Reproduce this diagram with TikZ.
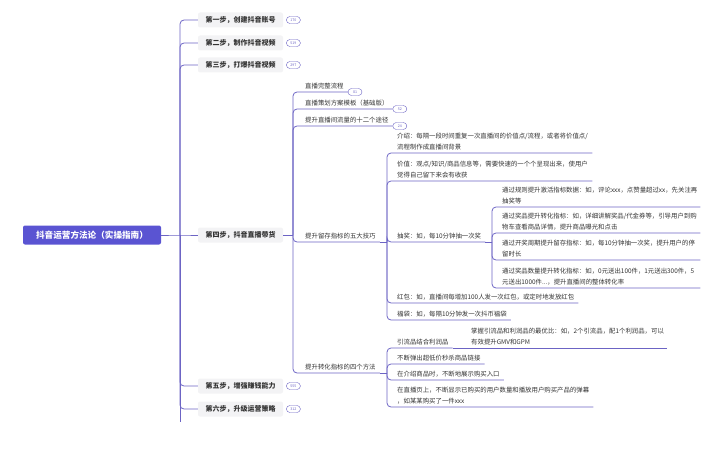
\documentclass[tikz,border=0pt]{standalone}
\usepackage{fontspec}
\setmainfont{Noto Sans CJK SC}
\usetikzlibrary{positioning}
\definecolor{rootBlue}{RGB}{90,84,210}
\definecolor{linkPurple}{RGB}{108,100,196}
\definecolor{stepGray}{RGB}{243,243,245}
\definecolor{textGray}{RGB}{51,51,51}

\begin{document}
\begin{tikzpicture}[x=1pt,y=-1pt,
    link/.style={draw=linkPurple,line width=0.8pt,rounded corners=4pt},
    rootbox/.style={fill=rootBlue,text=white,rounded corners=2pt,minimum width=138pt,minimum height=19pt,font=\bfseries\fontsize{8.6}{10}\selectfont},
    stepbox/.style={fill=stepGray,text=textGray,rounded corners=2pt,minimum height=15pt,inner xsep=7.5pt,font=\bfseries\fontsize{7}{8}\selectfont},
    badge/.style={draw=linkPurple,text=linkPurple,rounded corners=3.5pt,minimum width=14pt,minimum height=7pt,inner sep=0pt,font=\fontsize{3.6}{4}\selectfont},
    leaf/.style={anchor=south west,text=textGray,inner xsep=4pt,inner ysep=2.5pt,align=left,font=\fontsize{6.4}{11.5}\selectfont}]
        \useasboundingbox (0,0) rectangle (720,452);
        % root and steps
        \node[rootbox] (root) at (92,235) {抖音运营方法论（实操指南）};
        \node[stepbox] (st1) at (240.5,20) {第一步，创建抖音账号};
        \node[stepbox] (st2) at (240.5,43) {第二步，制作抖音视频};
        \node[stepbox] (st3) at (240.5,65) {第三步，打爆抖音视频};
        \node[stepbox] (st4) at (240.5,235) {第四步，抖音直播带货};
        \node[stepbox] (st5) at (240.5,386) {第五步，增强赚钱能力};
        \node[stepbox] (st6) at (240.5,409) {第六步，升级运营策略};
        \node[badge, right=3pt of st1] (b1) {170};
        \node[badge, right=3pt of st2] (b2) {519};
        \node[badge, right=3pt of st3] (b3) {297};
        \node[badge, right=3pt of st5] (b5) {555};
        \node[badge, right=3pt of st6] (b6) {312};
        \coordinate (s1) at (180,235);
        \coordinate (tail) at (180,422);
        \draw[link] (root.east) -- (s1) -- (st4.west);
        \foreach \n in {st1,st2,st3,st5,st6}
          \draw[link] (s1) |- (\n.west);
        \draw[link] (s1) -- (tail);
        % step four
        \node[leaf] (n21) at (301,92) {直播完整流程};
        \node[leaf] (n22) at (301,109) {直播策划方案模板（基础版）};
        \node[leaf] (n23) at (301,126) {提升直播间流量的十二个途径};
        \node[leaf] (n24) at (301,242) {提升留存指标的五大技巧};
        \node[leaf] (n25) at (301,373) {提升转化指标的四个方法};
        \node[badge, right=0pt of n21.south east] (b21) {81};
        \node[badge, right=0pt of n22.south east] (b22) {52};
        \node[badge, right=0pt of n23.south east] (b23) {24};
        \coordinate (s2) at (293,235);
        \draw[link] (st4.east) -- (s2);
        \foreach \n in {n21,n22,n23,n24,n25}
          \draw[link] (s2) |- (\n.south east);
        % five skills
        \coordinate (s3) at (387,242);
        \draw[link] (n24.south east) -- (s3);
        \node[leaf,text width=191pt] (n31) at (393,153) {介绍：每隔一段时间重复一次直播间的价值点/流程，或者将价值点/\\流程制作成直播间背景};
        \node[leaf,text width=191pt] (n32) at (393,181) {价值：观点/知识/商品信息等，需要快速的一个个呈现出来，使用户\\觉得自己留下来会有收获};
        \node[leaf] (n33) at (393,242) {抽奖：如，每10分钟抽一次奖};
        \node[leaf] (n34) at (393,303) {红包：如，直播间每增加100人发一次红包，或定时地发放红包};
        \node[leaf] (n35) at (393,320) {福袋：如，每隔10分钟发一次抖币福袋};
        \foreach \n in {n31,n32,n33,n34,n35}
          \draw[link] (s3) |- (\n.south east);
        % lottery
        \coordinate (s5) at (492,242);
        \draw[link] (n33.south east) -- (s5);
        \node[leaf,text width=194pt] (n41) at (498,207) {通过规则提升激活指标数据：如，评论xxx，点赞量超过xx，先关注再\\抽奖等};
        \node[leaf,text width=194pt] (n42) at (498,233) {通过奖品提升转化指标：如，详细讲解奖品/代金券等，引导用户到购\\物车查看商品详情，提升商品曝光和点击};
        \node[leaf,text width=194pt] (n43) at (498,260) {通过开奖周期提升留存指标：如，每10分钟抽一次奖，提升用户的停\\留时长};
        \node[leaf,text width=194pt] (n44) at (498,288) {通过奖品数量提升转化指标：如，0元送出100件，1元送出300件，5\\元送出1000件...，提升直播间的整体转化率};
        \foreach \n in {n41,n42,n43,n44}
          \draw[link] (s5) |- (\n.south east);
        % four methods
        \coordinate (s4) at (387,373);
        \draw[link] (n25.south east) -- (s4);
        \node[leaf] (m1) at (393,348) {引流品结合利润品};
        \node[leaf,text width=192pt] (m11) at (467,348) {掌握引流品和利润品的最优比：如，2个引流品，配1个利润品，可以\\有效提升GMV和GPM};
        \node[leaf] (m2) at (393,364) {不断弹出超低价秒杀商品链接};
        \node[leaf] (m3) at (393,380) {在介绍商品时，不断地展示购买入口};
        \node[leaf] (m4) at (393,407) {在直播页上，不断显示已购买的用户数量和播放用户购买产品的弹幕\\，如某某购买了一件xxx};
        \foreach \n in {m1,m2,m3,m4}
          \draw[link] (s4) |- (\n.south east);
        \draw[link] (m1.south east) -- (m11.south east);
      \end{tikzpicture}
\end{document}
